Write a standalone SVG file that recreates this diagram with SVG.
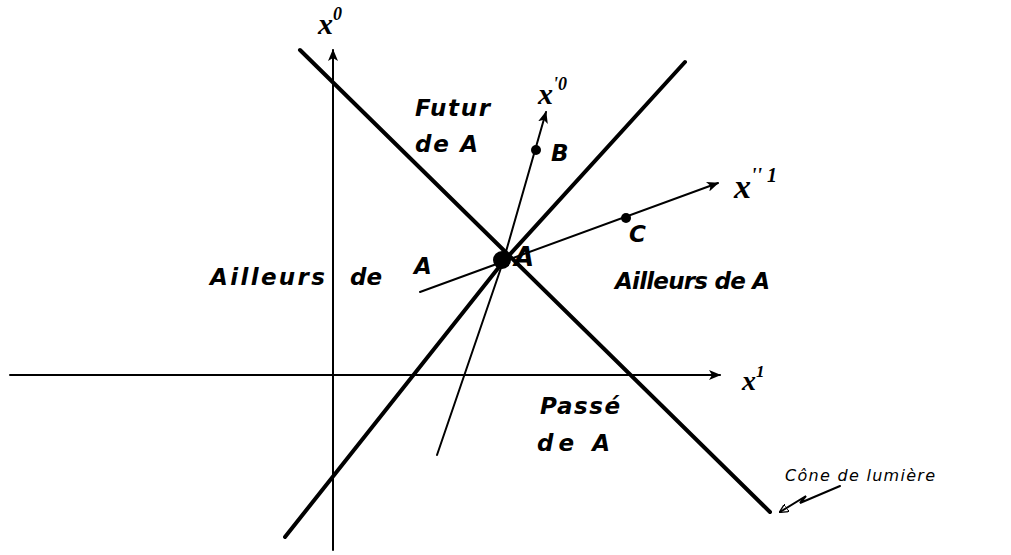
<svg xmlns="http://www.w3.org/2000/svg" width="1011" height="555" viewBox="0 0 1011 555">
<defs>
<marker id="arr" viewBox="0 0 12 10" refX="11" refY="5" markerWidth="12" markerHeight="10" markerUnits="userSpaceOnUse" orient="auto">
<path d="M0,0 L12,5 L0,10 L3,5 Z" fill="#000"/>
</marker>
<marker id="arrS" viewBox="0 0 10 10" refX="9" refY="5" markerWidth="9" markerHeight="9" markerUnits="userSpaceOnUse" orient="auto">
<path d="M0,0 L10,5 L0,10 Z" fill="none" stroke="#000" stroke-width="1.5"/>
</marker>
</defs>
<style>
.thin{stroke:#000;stroke-width:2;fill:none;stroke-linecap:round}
.thick{stroke:#000;stroke-width:4;fill:none;stroke-linecap:round}
.t{font-family:"DejaVu Sans","Liberation Sans",sans-serif;font-style:italic;font-weight:bold;fill:#000}
.lab{font-size:23px}
.cone{font-family:"DejaVu Sans","Liberation Sans",sans-serif;font-style:italic;font-weight:normal;font-size:16px;fill:#000}
.ax{font-family:"Liberation Serif",serif;font-style:italic;font-weight:bold;fill:#000}
</style>
<rect width="1011" height="555" fill="#fff"/>
<g id="connectors">
<line class="thin" x1="333" y1="550" x2="333" y2="50" marker-end="url(#arr)"/>
<line class="thin" x1="10" y1="375" x2="720" y2="375" marker-end="url(#arr)"/>
<line class="thick" x1="300" y1="50" x2="770" y2="512"/>
<polyline class="thick" points="685,62 503,262 285,537"/>
<polyline class="thin" points="437,455 503,262 546,112" marker-end="url(#arr)"/>
<line class="thin" x1="420" y1="292" x2="718" y2="183" marker-end="url(#arr)"/>
<path class="thin" d="M840,486 L800,503 L806,496 L780,512" marker-end="url(#arrS)"/>
</g>
<g id="A"><circle cx="502" cy="260" r="9" fill="#000"/><text class="t" x="514" y="266" font-size="26">A</text></g>
<g id="B"><circle cx="536" cy="150" r="5" fill="#000"/><text class="t" x="551" y="161" font-size="23">B</text></g>
<g id="C"><circle cx="626" cy="218" r="5" fill="#000"/><text class="t" x="629" y="242" font-size="23">C</text></g>
<g id="x0"><text class="ax" x="318" y="34" font-size="30">x<tspan font-size="18" dy="-14">0</tspan></text></g>
<g id="xp0"><text class="ax" x="538" y="104" font-size="30">x<tspan font-size="18" dy="-14">'0</tspan></text></g>
<g id="xpp1"><text class="ax" x="734" y="198" font-size="34">x<tspan font-size="20" dy="-16">'' 1</tspan></text></g>
<g id="x1"><text class="ax" x="742" y="390" font-size="28">x<tspan font-size="17" dy="-13">1</tspan></text></g>
<g id="futur"><text class="t lab" x="415" y="116" textLength="75">Futur</text><text class="t lab" x="415" y="152" textLength="63">de A</text></g>
<g id="passe"><text class="t lab" x="540" y="414" textLength="80">Passé</text><text class="t lab" x="537" y="451" textLength="73">de A</text></g>
<g id="ailleursG"><text class="t lab" x="210" y="285" textLength="115">Ailleurs</text><text class="t lab" x="350" y="285">de</text><text class="t lab" x="414" y="274">A</text></g>
<g id="ailleursD"><text class="t lab" x="615" y="289" textLength="155">Ailleurs de A</text></g>
<g id="cone"><text class="cone" x="785" y="481" textLength="150">Cône de lumière</text></g>
</svg>
